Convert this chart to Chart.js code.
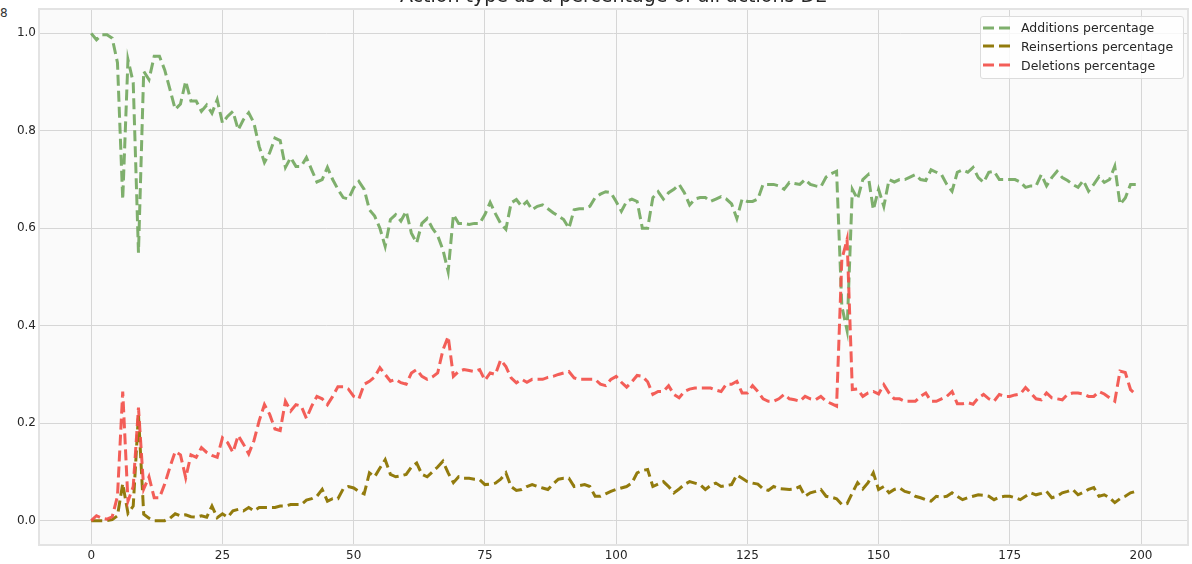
<!DOCTYPE html>
<html>
<head>
<meta charset="utf-8">
<script src="https://cdn.jsdelivr.net/npm/chart.js@4.4.0/dist/chart.umd.min.js"></script>
<style>
  html, body { margin: 0; padding: 0; background: #fff; }
  body { width: 1192px; height: 564px; overflow: hidden; position: relative; font-family: "DejaVu Sans", sans-serif; }
  #wrap { position: absolute; left: 0; top: -30px; width: 1192px; height: 594px; }
  #legend { position: absolute; left: 980px; top: 16px; width: 204px; height: 63px; box-sizing: border-box;
            border: 1px solid #dcdcdc; background: rgba(255,255,255,0.8); border-radius: 3px;
            font-size: 12.5px; color: #262626; }
  .row { position: absolute; left: 0; height: 19px; display: flex; align-items: center; white-space: nowrap; }
  .row svg { margin-left: 2px; }
  .row span { margin-left: 11px; }
  #corner { position: absolute; left: 0; top: 6px; font-size: 12px; color: #333; }
</style>
</head>
<body>
<div id="corner">8</div>
<div id="wrap"><canvas id="chart"></canvas></div>
<div id="legend"></div>
<script>
// step index 0..199
const steps = Array.from({length: 200}, (_, i) => i);

const additions = [
  1.0, 0.987, 0.997, 0.997, 0.99, 0.94, 0.659, 0.946, 0.899, 0.55,
  0.922, 0.905, 0.953, 0.953, 0.925, 0.885, 0.844, 0.855, 0.902, 0.861,
  0.861, 0.84, 0.853, 0.836, 0.864, 0.816, 0.83, 0.84, 0.802, 0.823,
  0.837, 0.816, 0.768, 0.735, 0.755, 0.785, 0.78, 0.725, 0.745, 0.727,
  0.727, 0.745, 0.72, 0.695, 0.70, 0.725, 0.70, 0.68, 0.663, 0.66,
  0.683, 0.696, 0.68, 0.638, 0.625, 0.60, 0.563, 0.618, 0.628, 0.615,
  0.635, 0.59, 0.57, 0.61, 0.62, 0.60, 0.585, 0.556, 0.511, 0.628,
  0.61, 0.61, 0.608, 0.61, 0.61, 0.628, 0.653, 0.63, 0.61, 0.598,
  0.652, 0.659, 0.645, 0.655, 0.638, 0.645, 0.648, 0.64, 0.632, 0.625,
  0.618, 0.60, 0.638, 0.64, 0.64, 0.645, 0.663, 0.67, 0.675, 0.673,
  0.655, 0.635, 0.655, 0.66, 0.655, 0.60, 0.60, 0.663, 0.675, 0.66,
  0.673, 0.68, 0.69, 0.673, 0.648, 0.66, 0.663, 0.663, 0.655, 0.66,
  0.665, 0.66, 0.65, 0.62, 0.66, 0.655, 0.655, 0.66, 0.69, 0.69,
  0.69, 0.687, 0.68, 0.694, 0.692, 0.69, 0.70, 0.69, 0.687, 0.685,
  0.705, 0.712, 0.717, 0.44, 0.39, 0.68, 0.66, 0.70, 0.71, 0.638,
  0.68, 0.645, 0.70, 0.695, 0.70, 0.70, 0.705, 0.71, 0.70, 0.698,
  0.72, 0.715, 0.71, 0.69, 0.676, 0.715, 0.72, 0.715, 0.725, 0.704,
  0.694, 0.715, 0.717, 0.70, 0.70, 0.70, 0.70, 0.695, 0.684, 0.687,
  0.687, 0.71, 0.687, 0.704, 0.717, 0.704, 0.698, 0.69, 0.684, 0.698,
  0.676, 0.69, 0.706, 0.694, 0.70, 0.727, 0.649, 0.662, 0.69, 0.69
];

const reinsertions = [
  0.0, 0.0, 0.0, 0.0, 0.002, 0.01, 0.076, 0.015, 0.03, 0.218,
  0.013, 0.005, 0.0, 0.0, 0.0, 0.005, 0.014, 0.01, 0.012, 0.008,
  0.007, 0.01, 0.007, 0.03, 0.006, 0.014, 0.007, 0.02, 0.023, 0.02,
  0.027, 0.02, 0.027, 0.027, 0.027, 0.027, 0.03, 0.03, 0.033, 0.033,
  0.033, 0.042, 0.045, 0.05, 0.064, 0.04, 0.045, 0.045, 0.065, 0.07,
  0.067, 0.06, 0.055, 0.098, 0.09, 0.108, 0.125, 0.095, 0.09, 0.092,
  0.095, 0.11, 0.118, 0.095, 0.09, 0.10, 0.11, 0.122, 0.098, 0.078,
  0.09, 0.087, 0.087, 0.085, 0.084, 0.074, 0.075, 0.077, 0.085, 0.098,
  0.07, 0.062, 0.064, 0.07, 0.074, 0.07, 0.067, 0.064, 0.075, 0.085,
  0.087, 0.087, 0.07, 0.072, 0.074, 0.07, 0.05, 0.05, 0.055, 0.06,
  0.064, 0.067, 0.07, 0.077, 0.098, 0.103, 0.105, 0.07, 0.075, 0.08,
  0.07, 0.057, 0.065, 0.074, 0.08, 0.077, 0.074, 0.064, 0.072, 0.077,
  0.07, 0.072, 0.074, 0.094, 0.087, 0.08, 0.077, 0.075, 0.065, 0.062,
  0.07, 0.066, 0.065, 0.064, 0.065, 0.07, 0.05, 0.057, 0.06, 0.064,
  0.05, 0.048, 0.045, 0.033, 0.035, 0.057, 0.078, 0.065, 0.078, 0.098,
  0.064, 0.07, 0.057, 0.064, 0.067, 0.06, 0.057, 0.05, 0.047, 0.043,
  0.04, 0.05, 0.048, 0.05, 0.057, 0.05, 0.043, 0.047, 0.05, 0.053,
  0.052, 0.05, 0.043, 0.048, 0.05, 0.05, 0.047, 0.043, 0.05, 0.057,
  0.053, 0.056, 0.06, 0.047, 0.05, 0.057, 0.06, 0.064, 0.053, 0.058,
  0.064, 0.068, 0.05, 0.053, 0.047, 0.037, 0.045, 0.05, 0.057, 0.06
];

const deletions = [
  0.0, 0.01, 0.005, 0.003, 0.008, 0.05, 0.265, 0.04, 0.07, 0.232,
  0.065, 0.09, 0.047, 0.047, 0.075, 0.11, 0.142, 0.135, 0.088, 0.135,
  0.13, 0.15, 0.14, 0.134, 0.13, 0.17, 0.16, 0.14, 0.175, 0.157,
  0.137, 0.164, 0.205, 0.238, 0.218, 0.188, 0.185, 0.245, 0.225, 0.238,
  0.235, 0.21, 0.235, 0.255, 0.25, 0.238, 0.255, 0.275, 0.275, 0.27,
  0.255, 0.25, 0.28, 0.286, 0.295, 0.314, 0.30, 0.286, 0.29, 0.283,
  0.28, 0.303, 0.31, 0.296, 0.29, 0.295, 0.303, 0.35, 0.378, 0.296,
  0.306, 0.31, 0.308, 0.306, 0.31, 0.288, 0.303, 0.30, 0.33, 0.316,
  0.293, 0.283, 0.29, 0.284, 0.29, 0.29, 0.29, 0.294, 0.296, 0.30,
  0.303, 0.306, 0.293, 0.29, 0.29, 0.29, 0.29, 0.28, 0.277, 0.29,
  0.296, 0.284, 0.274, 0.285, 0.298, 0.296, 0.285, 0.259, 0.265, 0.265,
  0.277, 0.259, 0.252, 0.265, 0.27, 0.272, 0.272, 0.272, 0.272, 0.268,
  0.265, 0.28, 0.28, 0.286, 0.262, 0.262, 0.277, 0.265, 0.25, 0.245,
  0.245, 0.25, 0.259, 0.25, 0.248, 0.245, 0.255, 0.25, 0.248, 0.255,
  0.245, 0.24, 0.235, 0.536, 0.577, 0.269, 0.27, 0.255, 0.262, 0.265,
  0.26, 0.279, 0.262, 0.25, 0.25, 0.245, 0.245, 0.245, 0.255, 0.262,
  0.245, 0.245, 0.25, 0.255, 0.265, 0.24, 0.24, 0.242, 0.239, 0.252,
  0.259, 0.25, 0.245, 0.259, 0.255, 0.255, 0.258, 0.26, 0.273, 0.262,
  0.25, 0.248, 0.262, 0.252, 0.25, 0.248, 0.259, 0.262, 0.262, 0.26,
  0.255, 0.255, 0.265, 0.26, 0.252, 0.245, 0.307, 0.304, 0.269, 0.259
];

const xTicks = [0, 25, 50, 75, 100, 125, 150, 175, 200];
const yTicks = [0.0, 0.2, 0.4, 0.6, 0.8, 1.0];

const seriesNames = ['Additions percentage', 'Reinsertions percentage', 'Deletions percentage'];
const seriesColors = ['rgba(112,166,92,0.9)', 'rgba(140,116,0,0.95)', 'rgba(242,80,74,0.92)'];

function pts(arr) {
  return arr.map((v, i) => ({x: steps[i], y: v}));
}

const plotBg = {
  id: 'plotBg',
  beforeDraw(chart) {
    const {ctx, chartArea: a} = chart;
    ctx.save();
    ctx.fillStyle = '#fafafa';
    ctx.fillRect(a.left, a.top, a.right - a.left, a.bottom - a.top);
    ctx.restore();
  },
  afterDatasetsDraw(chart) {
    const {ctx, chartArea: a} = chart;
    ctx.save();
    ctx.strokeStyle = '#e3e3e3';
    ctx.lineWidth = 2;
    ctx.strokeRect(a.left, a.top, a.right - a.left, a.bottom - a.top);
    ctx.restore();
  }
};

const datasets = [additions, reinsertions, deletions].map((arr, k) => ({
  label: seriesNames[k],
  data: pts(arr),
  borderColor: seriesColors[k],
  backgroundColor: seriesColors[k],
  borderWidth: 3,
  borderDash: [11, 5],
  pointRadius: 0,
  tension: 0,
  fill: false,
  order: 3 - k
}));

new Chart(document.getElementById('chart'), {
  type: 'line',
  data: { datasets: datasets },
  options: {
    responsive: true,
    maintainAspectRatio: false,
    animation: false,
    devicePixelRatio: 1,
    layout: { padding: { left: 0, right: 4, top: 0, bottom: 0 } },
    plugins: {
      legend: { display: false },
      tooltip: { enabled: false },
      title: {
        display: true,
        fullSize: false,
        text: 'Action type as a percentage of all actions DE',
        color: '#262626',
        font: { family: 'DejaVu Sans', size: 19, weight: 'normal' },
        padding: { top: 16, bottom: 0.2 }
      }
    },
    scales: {
      x: {
        type: 'linear',
        min: -9.95,
        max: 208.95,
        afterBuildTicks(scale) { scale.ticks = xTicks.map(v => ({value: v})); },
        afterFit(scale) { scale.height = 19; },
        grid: { color: '#d6d6d6', lineWidth: 1, drawTicks: false },
        border: { display: false },
        ticks: { color: '#262626', font: { family: 'DejaVu Sans', size: 12 }, padding: 4, maxRotation: 0,
                 callback: v => String(v) }
      },
      y: {
        min: -0.05,
        max: 1.05,
        afterBuildTicks(scale) { scale.ticks = yTicks.map(v => ({value: v})); },
        afterFit(scale) { scale.width = 39; },
        grid: { color: '#d6d6d6', lineWidth: 1, drawTicks: false },
        border: { display: false },
        ticks: { color: '#262626', font: { family: 'DejaVu Sans', size: 12 }, padding: 3,
                 callback: v => v.toFixed(1) }
      }
    }
  },
  plugins: [plotBg]
});

// legend box, inside the plot, top right
const legend = document.getElementById('legend');
seriesNames.forEach((name, k) => {
  const row = document.createElement('div');
  row.className = 'row';
  row.style.top = (1 + k * 18.8) + 'px';
  row.innerHTML = '<svg width="27" height="6"><line x1="0" y1="3" x2="27" y2="3" stroke="' + seriesColors[k] +
    '" stroke-width="3" stroke-dasharray="11 5"/></svg><span>' + name + '</span>';
  legend.appendChild(row);
});
</script>
</body>
</html>
